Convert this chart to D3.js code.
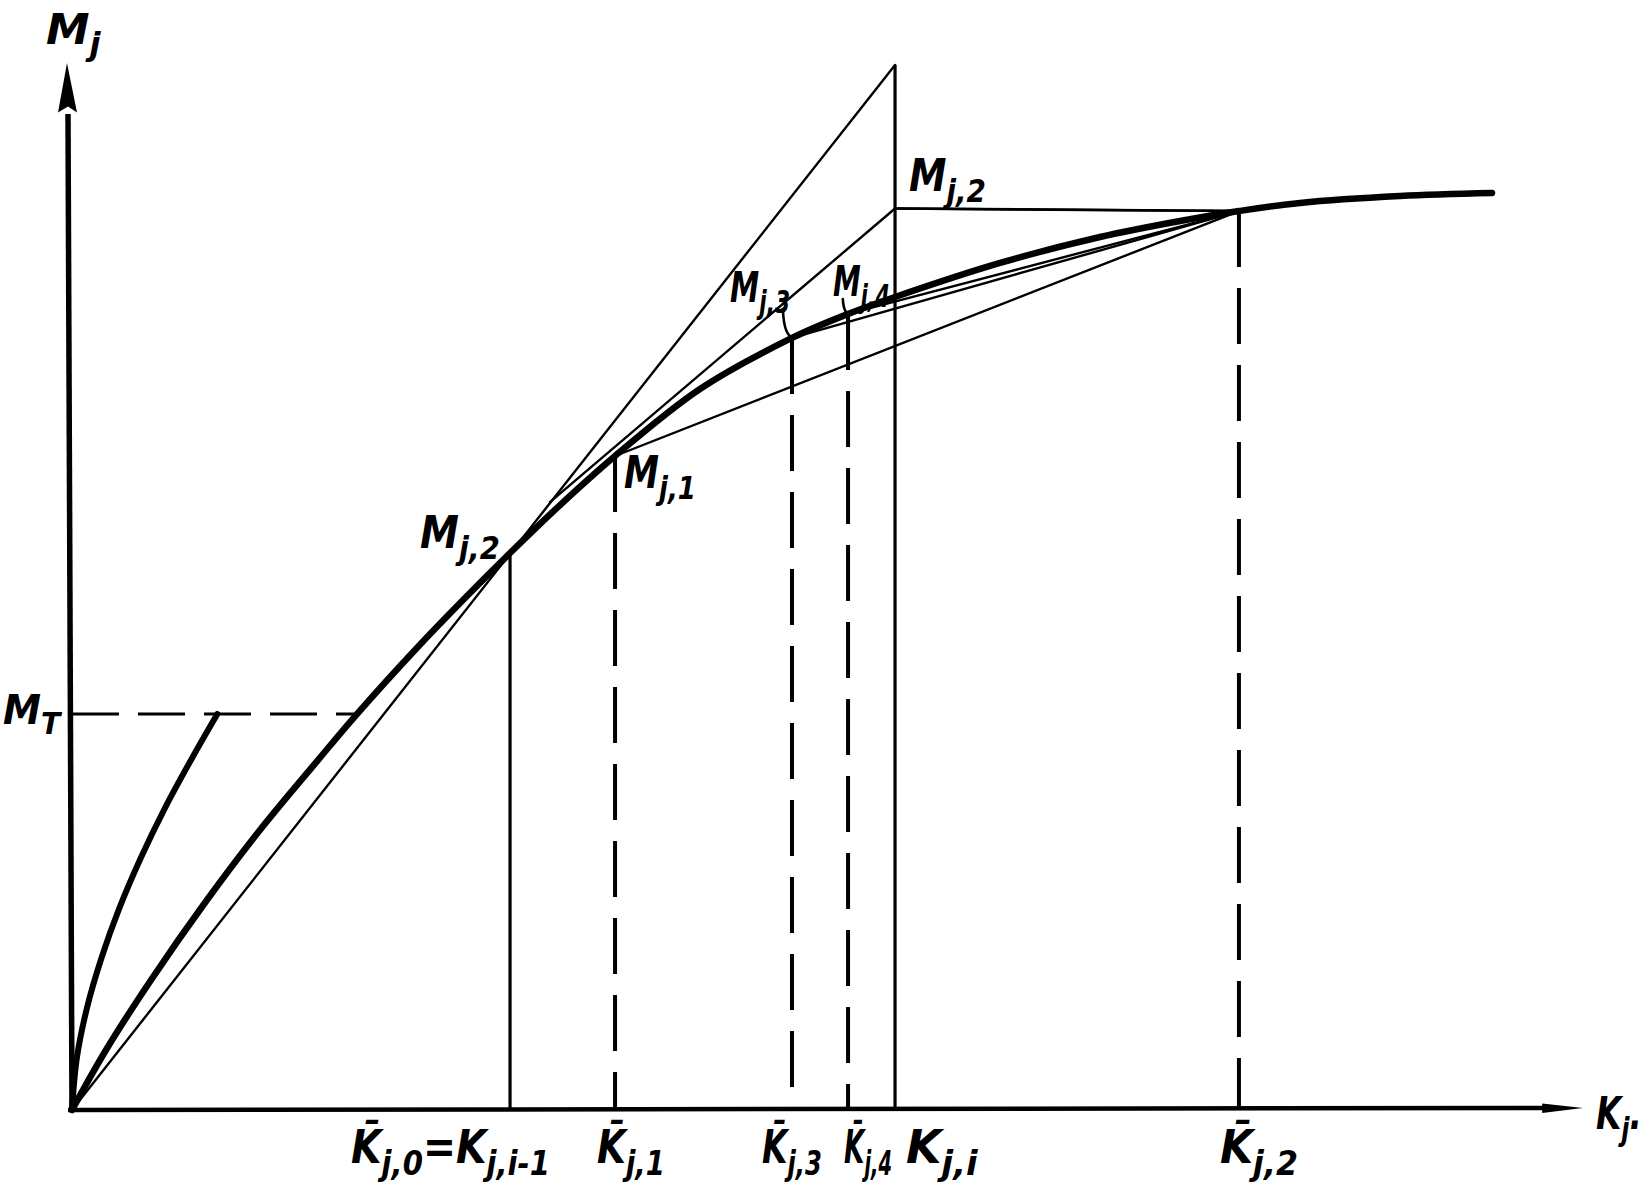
<!DOCTYPE html>
<html><head><meta charset="utf-8">
<script src="https://cdn.jsdelivr.net/npm/d3@7/dist/d3.min.js"></script>
<style>html,body{margin:0;padding:0;background:#fff}svg{display:block}</style>
</head><body>
<svg id="chart" width="1642" height="1183"></svg>
<script>
// ---------------- data (abstract units: K along x, M along y) ----------------
const mainCurveK = [0, 2.25, 5.23, 8.93, 12.44, 16.28, 18.8, 22.7, 25.88, 28.99, 32.3, 35.94, 41.56, 47.65, 51.36, 54.47, 61.42, 68.03, 73.33, 77.23, 81.27, 87.89, 93.98];
const mainCurveM = [0, 4.0, 8.67, 14.0, 18.67, 23.33, 26.33, 30.67, 34.0, 37.13, 40.33, 43.6, 48.07, 51.47, 53.07, 54.2, 56.47, 58.2, 59.27, 59.93, 60.47, 60.93, 61.13];
const elasticK = [0, 0.32, 0.99, 1.95, 3.14, 4.55, 6.15, 7.95, 9.62];
const elasticM = [0, 3.47, 6.8, 10.13, 13.47, 16.8, 20.13, 23.47, 26.4];
const yieldM = 26.4;          // M_T level
const yieldEndK = 18.8;       // where M_T dashed line meets the main curve

// chords / tangents
const chordFromK = [0, 31.63, 35.94, 47.65, 51.36, 54.47];
const chordFromM = [0, 40.53, 43.6, 51.47, 53.07, 60.1];
const chordToK   = [54.47, 54.47, 77.23, 77.23, 77.23, 77.23];
const chordToM   = [69.67, 60.1, 59.93, 59.93, 59.93, 59.93];

// verticals to the K axis
const tickLabels = ["K\u0304|j,0|=K|j,i-1", "K\u0304|j,1", "K\u0304|j,3", "K\u0304|j,4", "K|j,i", "K\u0304|j,2"];
const tickK      = [28.99, 35.94, 47.65, 51.36, 54.47, 77.23];
const tickTopM   = [37.13, 43.6, 51.47, 53.07, 69.67, 59.93];
const tickDashed = [false, true, true, true, false, true];

// point labels
const pointLabels = ["M|j,2", "M|j,1", "M|j,3", "M|j,4", "M|j,2"];
const axisLabelY = "M|j";
const axisLabelX = "K|j|.";
const yieldLabel = "M|T";

// ---------------- layout ----------------
const svg = d3.select("#chart");
const x = d3.scaleLinear().domain([0, 100]).range([72, 1583]);
const y = d3.scaleLinear().domain([0, 70]).range([1110, 60]);
const FONT = "'DejaVu Sans', 'Liberation Sans', sans-serif";

const line = d3.line().x(d => x(d[0])).y(d => y(d[1]));
const smooth = d3.line().x(d => x(d[0])).y(d => y(d[1])).curve(d3.curveCatmullRom.alpha(0.5));

const g = svg.append("g").attr("fill", "none").attr("stroke", "#000").attr("stroke-linecap", "round");

// thin chords
chordFromK.forEach((k, i) => {
  g.append("path").attr("d", line([[k, chordFromM[i]], [chordToK[i], chordToM[i]]])).attr("stroke-width", 2.4);
});
// horizontal from upper M_j,2 to K̄_j,2 point
g.append("path").attr("d", line([[chordToK[1], chordToM[1]], [tickK[5], tickTopM[5]]])).attr("stroke-width", 2.6);

// verticals
tickK.forEach((k, i) => {
  g.append("path").attr("d", line([[k, tickTopM[i]], [k, 0]]))
    .attr("stroke-width", tickDashed[i] ? 4 : 3.2)
    .attr("stroke-linecap", "butt")
    .attr("stroke-dasharray", tickDashed[i] ? "56,21" : null);
});

// M_T dashed
g.append("path").attr("d", line([[0, yieldM], [yieldEndK, yieldM]]))
  .attr("stroke-width", 3).attr("stroke-linecap", "butt").attr("stroke-dasharray", "47,19");

// curves
g.append("path").attr("d", smooth(mainCurveK.map((k, i) => [k, mainCurveM[i]]))).attr("stroke-width", 6.5);
g.append("path").attr("d", smooth(elasticK.map((k, i) => [k, elasticM[i]]))).attr("stroke-width", 6);

// leader hooks for M_j,3 and M_j,4
const hook = (k0, m0, k1, m1) => {
  const x0 = x(k0), y0 = y(m0), x1 = x(k1), y1 = y(m1);
  g.append("path").attr("d", `M${x0},${y0} Q${x0 + 1},${y1} ${x1},${y1}`).attr("stroke-width", 2.6);
};
hook(tickK[2] - 0.6, tickTopM[2] + 1.9, tickK[2] + 0.2, tickTopM[2]);
hook(tickK[3] - 0.35, tickTopM[3] + 1.0, tickK[3] + 0.1, tickTopM[3]);

// axes
g.append("path").attr("d", `M${x(0)},${y(0) + 2} L${x(0) - 4},${y(66.4)}`).attr("stroke-width", 5.5).attr("stroke-linecap", "butt");
svg.append("path").attr("d", `M${x(0) - 5},${y(69.8)} L${x(0) + 5},${y(66.5)} L${x(0) - 4},${y(66.9)} L${x(0) - 14},${y(66.5)} Z`).attr("fill", "#000");
g.append("path").attr("d", `M${x(0) - 4},${y(0)} L${x(97.5)},${y(0) - 2}`).attr("stroke-width", 4.5).attr("stroke-linecap", "butt");
svg.append("path").attr("d", `M${x(100)},${y(0) - 2} L${x(97.3)},${y(0) - 6.5} L${x(97.3)},${y(0) + 3} Z`).attr("fill", "#000");

// ---------------- text ----------------
function richText(str, size, px, baseline, width) {
  const parts = str.split("|");
  const grp = svg.append("g");
  const t = grp.append("text").attr("font-family", FONT).attr("font-style", "italic")
    .attr("font-weight", "bold").attr("font-size", size).attr("fill", "#000");
  const shift = size * 0.26;
  parts.forEach((p, i) => {
    if (!p) return;
    const ts = t.append("tspan").text(p);
    const sub = i % 2 === 1;
    if (sub) ts.attr("font-size", size * 0.74).attr("dy", shift);
    else if (i > 0) ts.attr("dy", -shift);
  });
  const bb = t.node().getBBox();
  const sx = width / bb.width;
  grp.attr("transform", `translate(${px - bb.x * sx},${baseline}) scale(${sx},1)`);
}

// axis labels
richText(axisLabelY, 42, 46, 44, 55);
richText(axisLabelX, 44, 1596, 1129, 46);
richText(yieldLabel, 40, 3, 724, 60);

// point labels: [size, left, baseline, width]
const pointLayout = [[44, 420, 548, 80], [44, 624, 488, 72], [42, 730, 302, 60], [42, 833, 296, 57], [44, 909, 191, 77]];
pointLabels.forEach((s, i) => {
  const L = pointLayout[i];
  richText(s, L[0], L[1], L[2], L[3]);
});

// tick labels below axis
const tickLayout = [[351, 199], [597, 68], [762, 60], [844, 48], [906, 73], [1220, 78]];
tickLabels.forEach((s, i) => {
  richText(s, 46, tickLayout[i][0], 1163, tickLayout[i][1]);
});
</script>
</body></html>
